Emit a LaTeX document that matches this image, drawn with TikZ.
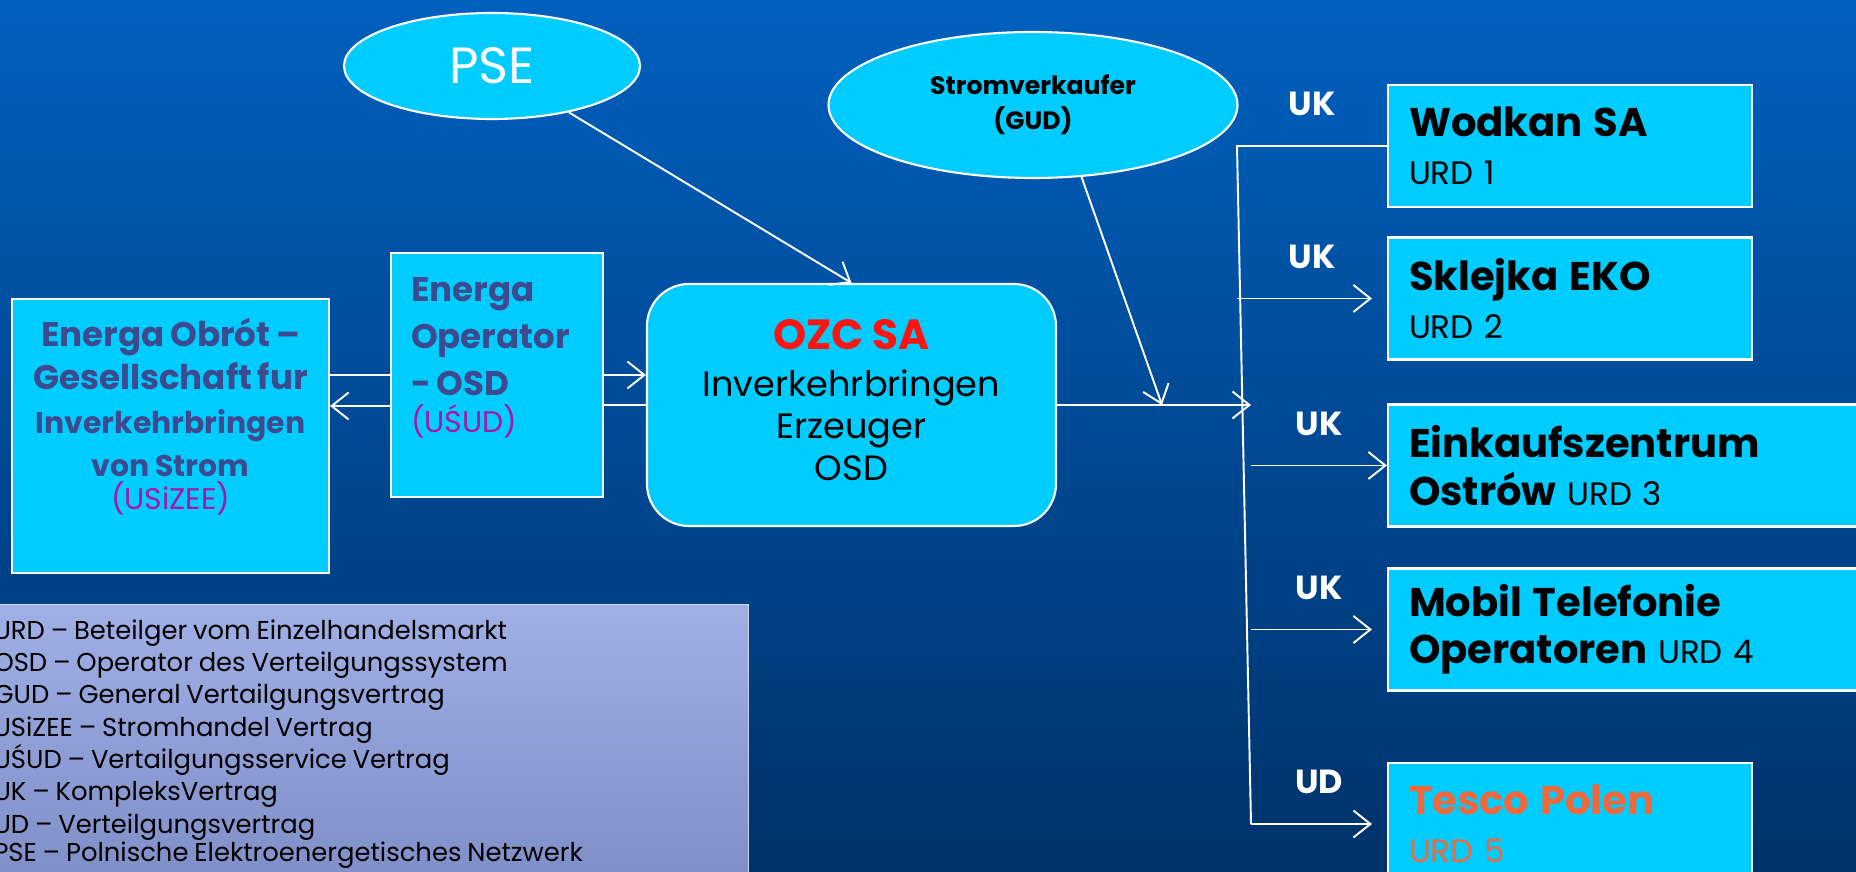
\documentclass[tikz,border=0pt]{standalone}
\usepackage{fontspec}
\setmainfont{Poppins}
\usetikzlibrary{arrows.meta,shapes.geometric}
\definecolor{bgtop}{RGB}{0,96,190}
\definecolor{bgbot}{RGB}{0,50,106}
\definecolor{cyx}{RGB}{0,204,255}
\definecolor{slx}{RGB}{62,74,142}
\definecolor{mgx}{RGB}{168,24,160}
\definecolor{rdx}{RGB}{255,20,20}
\definecolor{orx}{RGB}{240,105,60}
\definecolor{lgtop}{RGB}{160,175,230}
\definecolor{lgbot}{RGB}{126,142,198}
\newcommand{\fs}[2]{\fontsize{#1}{#2}\selectfont}
\tikzset{
    cbox/.style={draw=white,line width=1.2pt,fill=cyx,inner sep=0pt},
    party/.style={cbox,minimum width=7.28cm,minimum height=2.44cm,text width=6.44cm,align=left,font=\fs{18.5}{27}},
    wide/.style={minimum width=9.84cm,text width=9cm},
    oval/.style={cbox,ellipse},
    link/.style={white,line width=1.1pt},
    arr/.style={link,-{Straight Barb[length=3.4mm,width=5.4mm]}},
    ctr/.style={white,inner sep=0pt,font=\bfseries\fs{19}{22}}
}

\begin{document}
\begin{tikzpicture}
    \shade[top color=bgtop,bottom color=bgbot] (0,0) rectangle (37.12,17.44);
    \useasboundingbox (0,0) rectangle (37.12,17.44);
    % left part
    \node[cbox,minimum width=6.34cm,minimum height=5.48cm,text width=6.34cm,align=center,text=slx] (obrot) at (3.41,8.72)
        {\bfseries\fs{19.4}{24.6}Energa Obrót –\\Gesellschaft fur\\\fs{17}{24.6}Inverkehrbringen\\von Strom\\[2pt]
        \mdseries\color{mgx}(USiZEE)\rule[-0.88cm]{0pt}{0pt}};
    \node[cbox,minimum width=4.24cm,minimum height=4.88cm,text width=3.44cm,align=left,text=slx] (operator) at (9.94,9.94)
        {\bfseries\fs{19.4}{26.6}Energa\\Operator\\- OSD\\[4pt]\mdseries\color{mgx}\fs{17}{26.6}(UŚUD)\rule[-0.8cm]{0pt}{0pt}};
    \node[cbox,rounded corners=0.84cm,minimum width=8.18cm,minimum height=4.84cm,align=center,font=\fs{20}{24}] (ozc) at (17.03,9.34)
        {{\bfseries\color{rdx}\fs{24}{27}OZC SA}\\[3pt]Inverkehrbringen\\Erzeuger\\OSD\rule[-0.2cm]{0pt}{0pt}};
    \node[oval,minimum width=5.92cm,minimum height=2.12cm,text=white,font=\fs{29}{32}] (pse) at (9.84,16.12) {PSE};
    \node[oval,minimum width=8.18cm,minimum height=2.92cm,align=center,font=\bfseries\fs{14.3}{20}] (gud) at (20.66,15.34)
        {Stromverkaufer\\(GUD)};
    % customers
    \node[party] (wodkan) at (31.4,14.52) {{\bfseries\fs{22.8}{27}Wodkan SA}\\URD 1};
    \node[party] (sklejka) at (31.4,11.47) {{\bfseries\fs{22.8}{27}Sklejka EKO}\\URD 2};
    \node[party,wide] (einkauf) at (32.68,8.13) {{\bfseries\fs{22.8}{27}Einkaufszentrum}\\{\bfseries\fs{22.8}{27}Ostrów} URD 3};
    \node[party,wide] (mobil) at (32.68,4.85) {{\bfseries\fs{22.8}{27}Mobil Telefonie}\\{\bfseries\fs{22.8}{27}Operatoren} URD 4};
    \node[party,text=orx] (tesco) at (31.4,0.96) {{\bfseries\fs{22.8}{27}Tesco Polen}\\URD 5};
    % legend
    \node[draw=lgtop!50!white,line width=0.6pt,top color=lgtop,bottom color=lgbot,anchor=north west,
        minimum width=15.2cm,minimum height=5.6cm,text width=15cm,align=left,inner sep=0pt] (legend) at (-0.24,5.36)
        {\fs{14.7}{18.4}URD – Beteilger vom Einzelhandelsmarkt\\
        OSD – Operator des Verteilgungssystem\\
        GUD – General Vertailgungsvertrag\\
        USiZEE – Stromhandel Vertrag\\
        UŚUD – Vertailgungsservice Vertrag\\
        UK – KompleksVertrag\\
        UD – Verteilgungsvertrag\\
        PSE – Polnische Elektroenergetisches Netzwerk\rule[-0.16cm]{0pt}{0pt}};
    % connectors
    \coordinate (bustop) at (24.74,14.52);
    \coordinate (busbot) at (25.02,0.96);
    \coordinate (mix) at (23.24,9.34);
    \draw[link] (obrot.east |- operator.west) -- (operator.west);
    \draw[arr] ([yshift=-0.62cm]operator.west) -- ([yshift=-0.62cm]operator.west -| obrot.east);
    \draw[arr] (operator.east) -- (operator.east -| ozc.west);
    \draw[link] (ozc.west) -- (ozc.west -| operator.east);
    \draw[arr] (pse) -- (ozc.north);
    \draw[arr] (gud.-56) -- (mix);
    \draw[arr] (ozc.east) -- (ozc.east -| busbot);
    \draw[link] (wodkan.west) -- node[ctr,above=0.58cm] (uk-wodkan) {UK} (bustop) -- (busbot);
    \foreach \dst/\src/\gap in {sklejka/bustop/3mm, einkauf/busbot/0mm, mobil/busbot/3mm}
        \draw[arr,shorten >=\gap] (\src |- \dst.west) -- node[ctr,above=0.58cm] (uk-\dst) {UK} (\dst.west);
    \draw[arr,shorten >=3mm] (busbot) -- node[ctr,above=0.58cm] (ud-tesco) {UD} (tesco.west);
\end{tikzpicture}
\end{document}
